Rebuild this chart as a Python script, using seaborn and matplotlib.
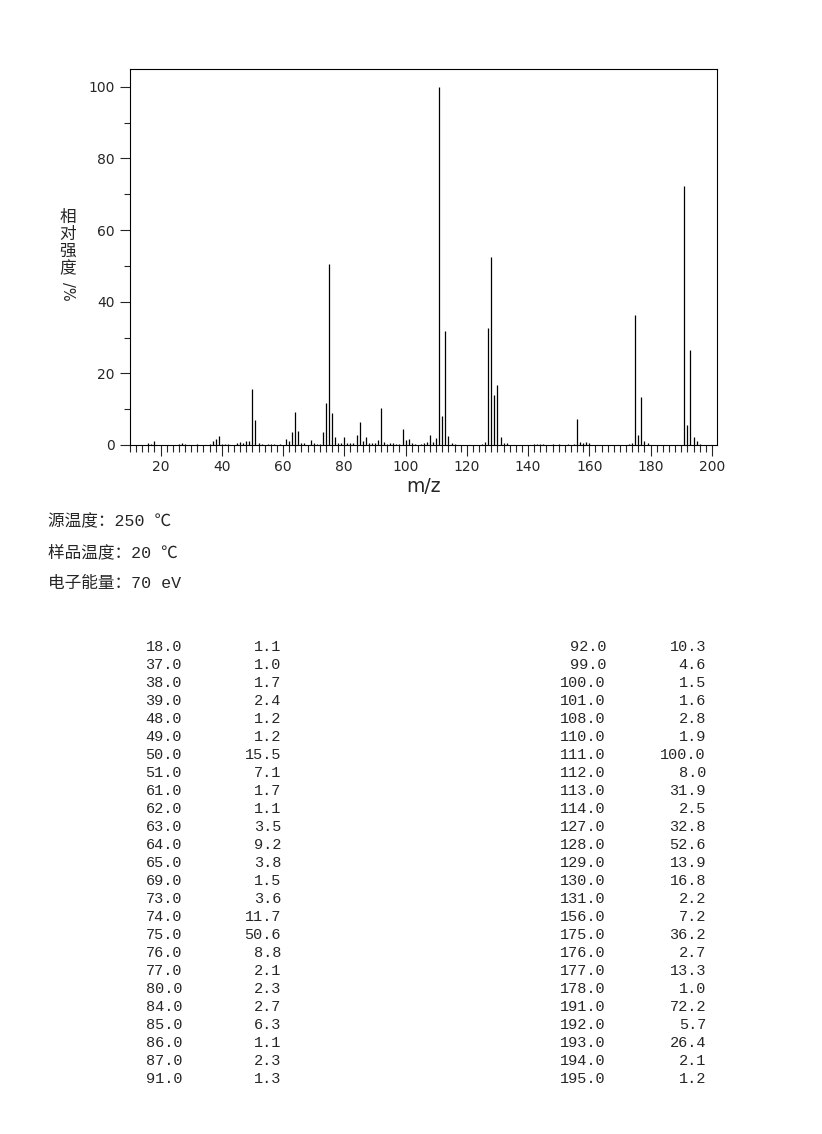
import numpy as np
import pandas as pd
import seaborn as sns
import matplotlib.pyplot as plt
from matplotlib.ticker import MultipleLocator

# peaks listed in the table (m/z, relative intensity %)
table_mz = [18, 37, 38, 39, 48, 49, 50, 51, 61, 62, 63, 64, 65, 69, 73, 74, 75, 76, 77, 80,
            84, 85, 86, 87, 91, 92, 99, 100, 101, 108, 110, 111, 112, 113, 114, 127, 128, 129,
            130, 131, 156, 175, 176, 177, 178, 191, 192, 193, 194, 195]
table_int = [1.1, 1.0, 1.7, 2.4, 1.2, 1.2, 15.5, 7.1, 1.7, 1.1, 3.5, 9.2, 3.8, 1.5, 3.6, 11.7,
             50.6, 8.8, 2.1, 2.3, 2.7, 6.3, 1.1, 2.3, 1.3, 10.3, 4.6, 1.5, 1.6, 2.8, 1.9, 100.0,
             8.0, 31.9, 2.5, 32.8, 52.6, 13.9, 16.8, 2.2, 7.2, 36.2, 2.7, 13.3, 1.0, 72.2, 5.7,
             26.4, 2.1, 1.2]

# weak peaks (< 1 %) read off the spectrum, not listed in the table
small_mz = [16, 17, 26, 27, 28, 32, 36, 40, 41, 42, 45, 46, 47, 52, 53, 55, 56, 57, 59, 66,
            67, 70, 71, 72, 78, 79, 81, 82, 83, 88, 89, 90, 93, 94, 95, 96, 97, 98, 102, 103,
            105, 106, 107, 109, 115, 116, 125, 126, 132, 133, 142, 143, 144, 145, 148, 150,
            153, 155, 157, 158, 159, 160, 173, 174, 179, 196]
small_int = [0.5, 0.3, 0.3, 0.5, 0.3, 0.4, 0.3, 0.3, 0.3, 0.3, 0.6, 0.7, 0.5, 0.6, 0.3, 0.4,
             0.3, 0.3, 0.3, 0.5, 0.5, 0.5, 0.3, 0.4, 0.6, 0.5, 0.6, 0.5, 0.6, 0.5, 0.6, 0.6,
             0.7, 0.4, 0.5, 0.5, 0.4, 0.4, 0.5, 0.3, 0.3, 0.5, 0.7, 0.7, 0.5, 0.2, 0.4, 0.7,
             0.5, 0.6, 0.4, 0.4, 0.4, 0.4, 0.3, 0.3, 0.3, 0.3, 0.8, 0.5, 0.7, 0.5, 0.3, 0.5,
             0.5, 0.2]

conditions = ["源温度：250 ℃", "样品温度：20 ℃", "电子能量：70 eV"]

spec = pd.DataFrame({
    'mz': table_mz + small_mz,
    'intensity': table_int + small_int,
})

sns.set_style("ticks")
plt.rcParams['font.family'] = ['DejaVu Sans', 'Noto Sans CJK SC']
plt.rcParams['axes.linewidth'] = 0.8

fig = plt.figure(figsize=(8.22, 11.34), dpi=100)
ax = fig.add_axes([0.158, 0.6076, 0.714, 0.3316])

ax.vlines(spec['mz'], 0, spec['intensity'], colors='black', linewidth=0.9)

ax.set_xlim(10, 201.6)
ax.set_ylim(0, 105)
ax.xaxis.set_major_locator(MultipleLocator(20))
ax.xaxis.set_minor_locator(MultipleLocator(2))
ax.yaxis.set_major_locator(MultipleLocator(20))
ax.yaxis.set_minor_locator(MultipleLocator(10))
ax.tick_params(axis='x', which='major', length=8, width=0.8, direction='out', pad=3,
               labelsize=10)
ax.tick_params(axis='x', which='minor', length=5, width=0.8, direction='out')
ax.tick_params(axis='y', which='major', length=7, width=0.8, direction='out', pad=4,
               labelsize=10)
ax.tick_params(axis='y', which='minor', length=4, width=0.8, direction='out')
for s in ax.spines.values():
    s.set_visible(True)
    s.set_color('black')

ax.set_xlabel('m/z', fontsize=13.5, labelpad=2)

# stacked vertical y label
fig.text(68 / 822, 1 - 243 / 1134, "相\n对\n强\n度", ha='center', va='center',
         fontsize=12, family=['Noto Sans CJK SC'], linespacing=1.0)
fig.text(68 / 822, 1 - 291 / 1134, "/%", ha='center', va='center', rotation=-90,
         fontsize=10.5, family=['DejaVu Sans'])

# acquisition conditions
for i, line in enumerate(conditions):
    fig.text(48 / 822, 1 - (521 + 31 * i) / 1134, line, ha='left', va='center',
             fontsize=12, family=['Liberation Mono', 'Noto Sans CJK SC'])

# peak table in two columns
half = 25
for i in range(len(table_mz)):
    col = i // half
    row = i % half
    y = 1 - (647 + 18 * row) / 1134
    x_mz = (182 if col == 0 else 606) / 822
    x_in = (281 if col == 0 else 706) / 822
    fig.text(x_mz, y, f"{table_mz[i]:.1f}", ha='right', va='center', fontsize=11,
             family=['Liberation Mono'])
    fig.text(x_in, y, f"{table_int[i]:.1f}", ha='right', va='center', fontsize=11,
             family=['Liberation Mono'])

fig.savefig('out.png', dpi=100)
